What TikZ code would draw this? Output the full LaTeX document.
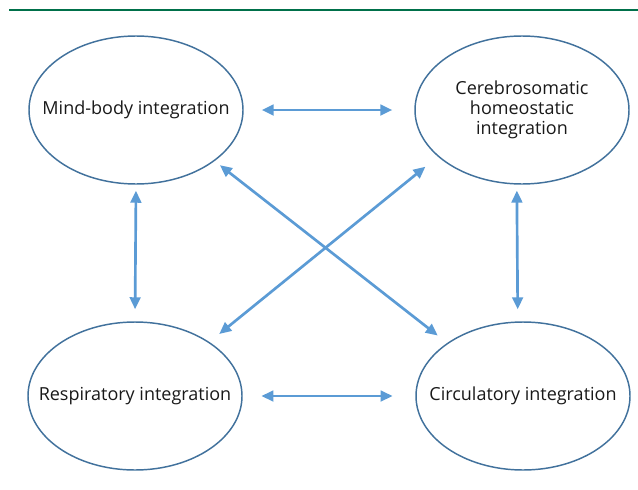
\documentclass[tikz,border=0pt]{standalone}
\usepackage{fontspec}
\setmainfont{Open Sans}
\usepackage{tikz}
\usetikzlibrary{arrows.meta,shapes.geometric}
\definecolor{arrowblue}{HTML}{5B9BD5}
\definecolor{rimblue}{HTML}{41719C}
\definecolor{bargreen}{HTML}{00704A}

\begin{document}
\begin{tikzpicture}[x=0.75pt,y=-0.75pt,
	blob/.style={ellipse,draw=rimblue,line width=1.1pt,minimum width=160.5pt,minimum height=111pt,inner sep=0pt},
	lbl/.style={align=center,text=black!90,font=\fontsize{13.5}{15}\selectfont},
	link/.style={arrowblue,line width=2pt,{Triangle[length=9pt,width=8pt]}-{Triangle[length=9pt,width=8pt]}}]
\useasboundingbox (0,0) rectangle (638,489);
\draw[bargreen,line width=2pt](9,10)--(638,10);
\foreach \nm/\px/\py/\txt in {mind/136/110/{Mind-body integration},cereb/522/110/{Cerebrosomatic\\homeostatic\\integration},resp/135/396/{Respiratory integration},circ/523/396/{Circulatory integration}}{
	\node[blob] (\nm) at (\px,\py) {};
	\node[lbl] (\nm-txt) at (\nm) {\txt};
}
\draw[link,shorten <=13.5pt,shorten >=16.5pt](mind.east)--(cereb.west);
\draw[link,shorten <=14pt,shorten >=17pt](resp.east)--(circ.west);
\draw[link,shorten <=4.5pt,shorten >=9pt](mind.south)--(resp.north);
\draw[link,shorten <=4.5pt,shorten >=9pt](cereb.-94)--(circ.94);
\draw[link,shorten <=5pt,shorten >=9pt](mind.-33.5)--(circ.145.5);
\draw[link,shorten <=12pt,shorten >=9.5pt](cereb.-151.8)--(resp.36);
\end{tikzpicture}
\end{document}
